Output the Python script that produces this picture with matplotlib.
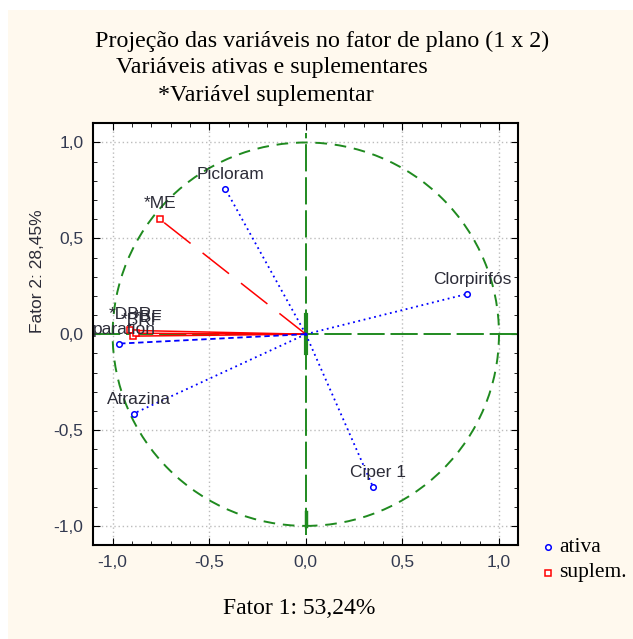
import numpy as np
import matplotlib.pyplot as plt
from matplotlib.patches import Rectangle, Circle
from matplotlib.ticker import MultipleLocator, FuncFormatter

# active variables: loadings on factor 1 and factor 2
ativa_nomes = ['Picloram', 'Clorpirifós', 'Ciper 1', 'Atrazina', 'paration']
ativa_f1 = [-0.416, 0.835, 0.347, -0.891, -0.966]
ativa_f2 = [0.757, 0.210, -0.795, -0.414, -0.049]

# supplementary variables
suplem_nomes = ['*ME', '*DBR', '*BRF', '*BF']
suplem_f1 = [-0.756, -0.91, -0.893, -0.88]
suplem_f2 = [0.600, 0.020, -0.010, 0.005]

titulo = ['Projeção das variáveis no fator de plano (1 x 2)',
          'Variáveis ativas e suplementares',
          '*Variável suplementar']
rotulo_x = 'Fator 1: 53,24%'
rotulo_y = 'Fator 2: 28,45%'

verde = '#1f8a1f'
creme = '#fff9ee'
cor_tick = '#333a50'
cor_rotulo = '#2c2c38'

fig = plt.figure(figsize=(6.33, 6.39), dpi=100, facecolor='white')
fig.patches.append(Rectangle((8 / 633, 0), 1, 1 - 10 / 639, transform=fig.transFigure,
                             facecolor=creme, edgecolor='none', zorder=-10))

ax = fig.add_axes([0.1474, 0.147, 0.6714, 0.660])
ax.set_facecolor('white')
ax.set_xlim(-1.1, 1.1)
ax.set_ylim(-1.1, 1.1)

# grid
for v in [-1.0, -0.5, 0.5, 1.0]:
    ax.axvline(v, color='#bcbcbc', lw=1, ls=(0, (1, 2)), zorder=1)
    ax.axhline(v, color='#bcbcbc', lw=1, ls=(0, (1, 2)), zorder=1)

# unit circle and axes through origin
ax.add_patch(Circle((0, 0), 1.0, fill=False, ec=verde, lw=1.4, ls=(0, (6, 4)), zorder=2))
ax.plot([-1.1, 1.1], [0, 0], color=verde, lw=1.4, ls=(0, (14, 3)), zorder=2)
ax.plot([0, 0], [-1.05, 1.05], color=verde, lw=1.4, ls=(0, (14, 3)), zorder=2)
ax.plot([0, 0], [-0.1, 0.1], color=verde, lw=3, zorder=2)
ax.plot([0, 0], [-1.0, -0.93], color=verde, lw=2.5, zorder=2)

# supplementary vectors
for x, y in zip(suplem_f1, suplem_f2):
    ax.plot([0, x], [0, y], color='red', lw=1.1, ls=(0, (22, 10)) if y > 0.3 else '-', zorder=3)
ax.plot(suplem_f1, suplem_f2, ls='none', marker='s', ms=5, mfc='white', mec='red', mew=1.1, zorder=5)

# active vectors
for nome, x, y in zip(ativa_nomes, ativa_f1, ativa_f2):
    estilo = (0, (3, 2)) if nome == 'paration' else (0, (1, 2))
    ax.plot([0, x], [0, y], color='blue', lw=1.3, ls=estilo, zorder=4)
ax.plot(ativa_f1, ativa_f2, ls='none', marker='o', ms=4, mfc='white', mec='blue', mew=1.1, zorder=5)

# labels above each point
rot_kw = dict(ha='center', va='baseline', fontsize=12.5, family='Liberation Sans', color=cor_rotulo, zorder=6)
for nome, x, y in zip(ativa_nomes, ativa_f1, ativa_f2):
    ax.annotate(nome, (x, y), xytext=(4, 7), textcoords='offset points', **rot_kw)
ax.annotate(suplem_nomes[0], (suplem_f1[0], suplem_f2[0]), xytext=(0, 8), textcoords='offset points', **rot_kw)
for nome, x, y, dx in zip(suplem_nomes[1:], suplem_f1[1:], suplem_f2[1:], [0, 6, 9]):
    ax.annotate(nome, (x, y), xytext=(dx, 8), textcoords='offset points', **rot_kw)

# ticks
ax.set_xticks([-1.0, -0.5, 0.0, 0.5, 1.0])
ax.set_yticks([-1.0, -0.5, 0.0, 0.5, 1.0])
ax.xaxis.set_minor_locator(MultipleLocator(0.1))
ax.yaxis.set_minor_locator(MultipleLocator(0.1))
fmt = FuncFormatter(lambda v, p: f'{v:.1f}'.replace('.', ',').replace('-0,0', '0,0'))
ax.xaxis.set_major_formatter(fmt)
ax.yaxis.set_major_formatter(fmt)
ax.tick_params(which='both', direction='in', top=True, right=True, color='black')
ax.tick_params(which='major', length=5, labelsize=12.5, labelcolor=cor_tick, pad=7)
ax.tick_params(which='minor', length=3)
for lab in ax.get_xticklabels() + ax.get_yticklabels():
    lab.set_family('Liberation Sans')
for s in ax.spines.values():
    s.set_linewidth(1.5)

# titles and axis labels
fig.text(322 / 633, 1 - 41 / 639, titulo[0], ha='center', va='center', fontsize=17.3, family='Liberation Serif')
fig.text(272 / 633, 1 - 67 / 639, titulo[1], ha='center', va='center', fontsize=17.3, family='Liberation Serif')
fig.text(266 / 633, 1 - 95 / 639, titulo[2], ha='center', va='center', fontsize=17.3, family='Liberation Serif')
fig.text(299 / 633, 1 - 608 / 639, rotulo_x, ha='center', va='center', fontsize=17, family='Liberation Serif')
fig.text(37 / 633, 1 - 271 / 639, rotulo_y, ha='center', va='center', rotation=90, fontsize=12.5,
         family='Liberation Sans', color=cor_rotulo)

# legend outside the plot
fig.lines.append(plt.Line2D([548 / 633], [1 - 547 / 639], transform=fig.transFigure, marker='o', ms=4,
                            mfc='white', mec='blue', mew=1.1, ls='none'))
fig.lines.append(plt.Line2D([548 / 633], [1 - 573 / 639], transform=fig.transFigure, marker='s', ms=5,
                            mfc='white', mec='red', mew=1.1, ls='none'))
fig.text(559 / 633, 1 - 547 / 639, 'ativa', va='center', fontsize=15.5, family='Liberation Serif')
fig.text(559 / 633, 1 - 573 / 639, 'suplem.', va='center', fontsize=15.5, family='Liberation Serif')

fig.savefig('out.png', dpi=100, facecolor=fig.get_facecolor())
